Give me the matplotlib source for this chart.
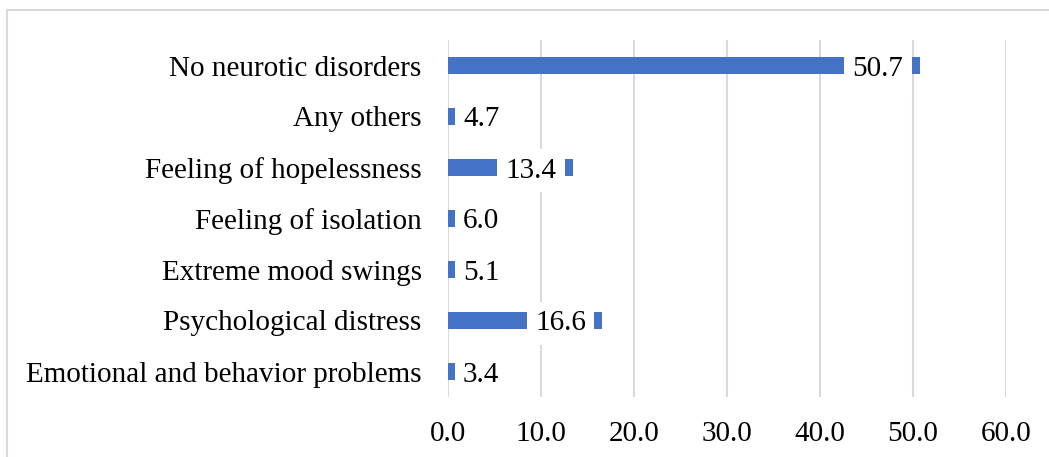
import matplotlib
matplotlib.use("Agg")
import matplotlib.pyplot as plt
from matplotlib.patches import Rectangle

categories = [
    "Emotional and behavior problems",
    "Psychological distress",
    "Extreme mood swings",
    "Feeling of isolation",
    "Feeling of hopelessness",
    "Any others",
    "No neurotic disorders",
]
values = [3.4, 16.6, 5.1, 6.0, 13.4, 4.7, 50.7]
x_ticks = [0, 10, 20, 30, 40, 50, 60]

plt.rcParams["font.family"] = ["Liberation Serif", "DejaVu Serif"]
FS = 21

fig = plt.figure(figsize=(10.49, 4.57), dpi=100)
ax = fig.add_axes([448 / 1049, 1 - 397 / 457, (1006 - 448) / 1049, 357 / 457])

# chart frame (only top/left edges visible in the crop)
fig.patches.append(Rectangle((7 / 1049, -0.1), 1.2, 1 - 10 / 457 + 0.1,
                             transform=fig.transFigure, fill=False,
                             edgecolor="#d9d9d9", linewidth=1.5))

y = range(len(categories))
ax.barh(y, values, height=0.35, color="#4472C4", zorder=2)

for i, v in enumerate(values):
    lx = max(v - 7.2, 1.6)
    ax.text(lx, i, f"{v:.1f}", ha="left", va="center_baseline", fontsize=FS,
            color="black", zorder=3,
            bbox=dict(boxstyle="square,pad=0.28", facecolor="white",
                      edgecolor="none"))

ax.set_xlim(0, 60)
ax.set_ylim(-0.5, len(categories) - 0.5)
ax.set_xticks(x_ticks)
ax.set_xticklabels([f"{t:.1f}" for t in x_ticks])
ax.set_yticks(list(y))
ax.set_yticklabels(categories)
ax.tick_params(axis="both", length=0, labelsize=FS)
ax.tick_params(axis="x", pad=17)
ax.tick_params(axis="y", pad=19)
ax.grid(axis="x", color="#d9d9d9", linewidth=1.5, zorder=0)
ax.set_axisbelow(True)
for s in ax.spines.values():
    s.set_visible(False)

fig.savefig("out.png", dpi=100)
